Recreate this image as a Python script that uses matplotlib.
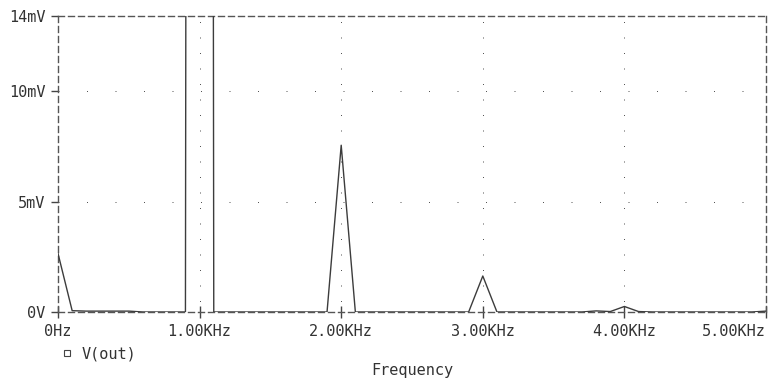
import matplotlib
matplotlib.use('Agg')
import matplotlib.pyplot as plt
from matplotlib.lines import Line2D

# FFT of V(out), 100 Hz bins from 0 to 5 kHz (values in mV)
freq_khz = [i / 10 for i in range(51)]
v_out_mv = [2.65, 0.06, 0.04, 0.04, 0.04, 0.04, 0.0, 0.0, 0.0, 0.0,
            500.0, 0.0, 0.0, 0.0, 0.0, 0.0, 0.0, 0.0, 0.0, 0.0,
            7.55, 0.0, 0.0, 0.0, 0.0, 0.0, 0.0, 0.0, 0.0, 0.0,
            1.63, 0.0, 0.0, 0.0, 0.0, 0.0, 0.0, 0.0, 0.05, 0.02,
            0.25, 0.02, 0.0, 0.0, 0.0, 0.0, 0.0, 0.0, 0.0, 0.0,
            0.04]

x_ticks = [0, 1, 2, 3, 4, 5]
x_labels = ['0Hz', '1.00KHz', '2.00KHz', '3.00KHz', '4.00KHz', '5.00KHz']
y_ticks = [0, 5, 10, 13.4]
y_labels = ['0V', '5mV', '10mV', '14mV']

plt.rcParams['lines.scale_dashes'] = False
px = 0.72  # one pixel in points at dpi 100
ink = '#3c3c3c'

fig = plt.figure(figsize=(7.75, 3.84), dpi=100, facecolor='white')
ax = fig.add_axes([58 / 775, 1 - 312 / 384, (766 - 58) / 775, (312 - 16) / 384])

# dotted grid
for x in x_ticks[1:]:
    ax.axvline(x, color='#555555', lw=px, linestyle=(5 * px, (px, 14.5 * px)), zorder=1)
for y in y_ticks[1:3]:
    ax.axhline(y, color='#555555', lw=px, linestyle=(0, (px, 27.5 * px)), zorder=1)

ax.plot(freq_khz, v_out_mv, color=ink, lw=1.0, zorder=3, clip_on=True)

ax.set_xlim(0, 5)
ax.set_ylim(0, 13.4)

for s in ax.spines.values():
    s.set_linestyle((0, (6 * px, 4 * px)))
    s.set_color('#555555')
    s.set_linewidth(1.0)

mono = 'DejaVu Sans Mono'
ax.set_xticks(x_ticks)
ax.set_xticklabels(x_labels, fontsize=11, family=mono, color='#333333')
ax.set_yticks(y_ticks)
ax.set_yticklabels(y_labels, fontsize=11, family=mono, color='#333333')
ax.tick_params(axis='x', direction='inout', length=8, width=1, color='#444444', pad=5)
ax.tick_params(axis='y', direction='out', length=5, width=1, color='#444444', pad=4)
ax.get_xticklabels()[-1].set_horizontalalignment('right')

ax.set_xlabel('Frequency', fontsize=11, family=mono, color='#333333', labelpad=17)

handle = Line2D([], [], marker='s', markersize=5, markerfacecolor='white',
                markeredgecolor='#444444', markeredgewidth=0.8, linestyle='none')
ax.legend([handle], ['V(out)'], loc='upper left', bbox_to_anchor=(-0.005, -0.095),
          frameon=False, handlelength=0.8, handletextpad=0.6, borderaxespad=0,
          prop={'family': mono, 'size': 11}, labelcolor='#333333')

fig.savefig('out.png', dpi=100, facecolor='white')
